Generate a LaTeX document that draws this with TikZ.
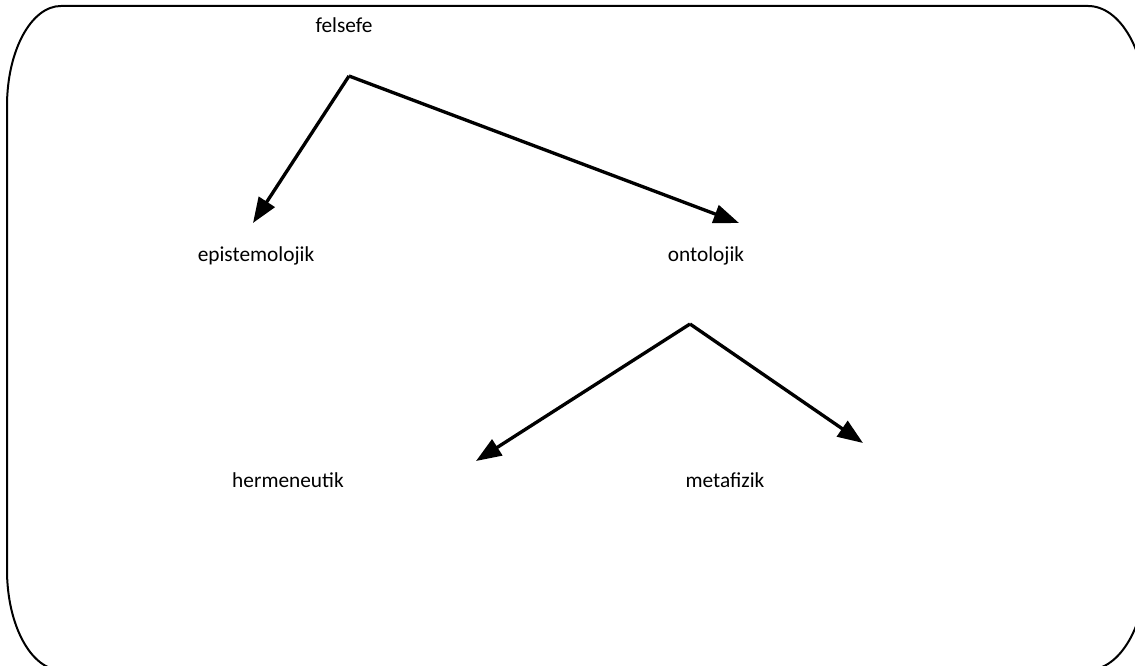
\documentclass[tikz,border=0pt]{standalone}
\usepackage{fontspec}
\setmainfont{Carlito}
\usetikzlibrary{arrows.meta}
\begin{document}
\begin{tikzpicture}[x=0.75pt,y=0.75pt,
  lbl/.style={anchor=base,inner sep=0pt,font=\fontsize{16}{19}\selectfont},
  conn/.style={line width=2.5pt,-{Triangle[length=19pt,width=14pt]}},
  frame/.style={line width=1.5pt}]
\useasboundingbox (0,0) rectangle (1135,666);
\begin{scope}
\clip (0,0) rectangle (1135,666);
\draw[frame] (1146,560)
  arc[start angle=0,end angle=90,x radius=58,y radius=100]
  -- (61,660)
  arc[start angle=90,end angle=180,x radius=54,y radius=100]
  -- (7,96)
  arc[start angle=180,end angle=270,x radius=54,y radius=100]
  -- (1088,-4)
  arc[start angle=270,end angle=360,x radius=58,y radius=100];
\end{scope}
\node[lbl] (felsefe) at (344,633) {felsefe};
\node[lbl] (epi) at (256,404) {epistemolojik};
\node[lbl] (onto) at (706,404) {ontolojik};
\node[lbl] (herm) at (288,178) {hermeneutik};
\node[lbl] (meta) at (725,178) {metafizik};
\coordinate (j1) at (349,590);
\coordinate (t1) at (253,443);
\coordinate (t2) at (739,443);
\coordinate (j2) at (690,342);
\coordinate (t3) at (476,205);
\coordinate (t4) at (863,223);
\draw[conn] (j1) -- (t1);
\draw[conn] (j1) -- (t2);
\draw[conn] (j2) -- (t3);
\draw[conn] (j2) -- (t4);
\end{tikzpicture}
\end{document}
